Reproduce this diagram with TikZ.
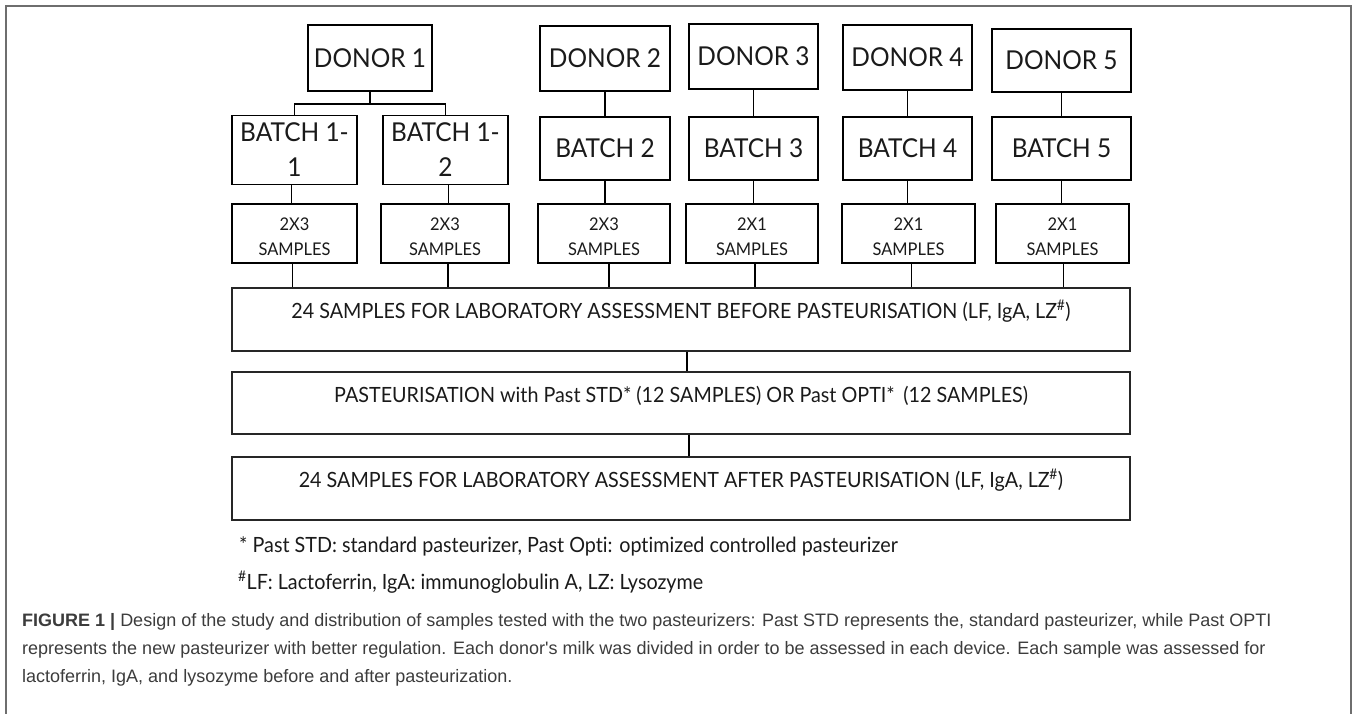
\documentclass[tikz,border=0pt]{standalone}
\usepackage{fontspec}
\setmainfont{Lato}[FakeStretch=0.94,Ligatures=NoCommon]
\newfontfamily\capfont{Liberation Sans}
\definecolor{ink}{HTML}{1A1A1A}
\definecolor{capgray}{HTML}{3C3C3C}
\definecolor{framegray}{HTML}{6E6E6E}
\newcommand{\lowtext}[2]{\raisebox{-#1}[\height][\depth]{\begin{tabular}{@{}c@{}}#2\end{tabular}}}
\begin{document}
\begin{tikzpicture}[x=1pt,y=-1pt,
  box/.style={draw=black, line width=1.8pt, inner sep=0pt, text=ink, align=center,
    font=\fontsize{26}{34.5}\selectfont},
  sampbox/.style={draw=black, line width=1.5pt, inner sep=0pt, text=ink,
    font=\fontsize{17.5}{24.5}\selectfont, minimum height=59pt},
  widebox/.style={draw=black!85, line width=1.4pt, inner sep=0pt, text=ink,
    minimum width=898pt, text height=16pt, text depth=18pt,
    font=\fontsize{21}{26}\selectfont},
  link/.style={draw=black, line width=1.6pt},
  note/.style={anchor=west, inner sep=0pt, text=ink, font=\fontsize{21}{26}\selectfont},
  frame/.style={draw=framegray, line width=1.5pt}
  ]
\useasboundingbox (0,0) rectangle (1357,714);
\draw[frame] (6,714) -- (6,6) -- (1351,6) -- (1351,714);

% donors
\node[box, minimum width=124pt, minimum height=66pt] (d1) at (370,58) {DONOR 1};
\node[box, minimum width=130pt, minimum height=65pt] (d2) at (605,58.5) {DONOR 2};
\node[box, minimum width=129pt, minimum height=65pt] (d3) at (753.5,56.5) {DONOR 3};
\node[box, minimum width=129pt, minimum height=65pt] (d4) at (907.5,57.5) {DONOR 4};
\node[box, minimum width=139pt, minimum height=63pt] (d5) at (1061.5,60.5) {DONOR 5};

% batches
\node[box, minimum width=125pt, minimum height=66pt] (b11) at (294.5,150) {\lowtext{2pt}{BATCH 1-\\1}};
\node[box, minimum width=125pt, minimum height=66pt] (b12) at (445.5,150) {\lowtext{2pt}{BATCH 1-\\2}};
\node[box, minimum width=130pt, minimum height=63pt] (b2) at (605,148.5) {BATCH 2};
\node[box, minimum width=129pt, minimum height=63pt] (b3) at (753.5,148.5) {BATCH 3};
\node[box, minimum width=129pt, minimum height=63pt] (b4) at (907.5,148.5) {BATCH 4};
\node[box, minimum width=139pt, minimum height=63pt] (b5) at (1061.5,148.5) {BATCH 5};

% samples
\node[sampbox, minimum width=125pt] (s1) at (294.5,233.5) {\lowtext{4.5pt}{2X3\\SAMPLES}};
\node[sampbox, minimum width=128pt] (s2) at (445,233.5) {\lowtext{4.5pt}{2X3\\SAMPLES}};
\node[sampbox, minimum width=132pt] (s3) at (604,233.5) {\lowtext{4.5pt}{2X3\\SAMPLES}};
\node[sampbox, minimum width=132pt] (s4) at (752,233.5) {\lowtext{4.5pt}{2X1\\SAMPLES}};
\node[sampbox, minimum width=133pt] (s5) at (908.5,233.5) {\lowtext{4.5pt}{2X1\\SAMPLES}};
\node[sampbox, minimum width=133pt] (s6) at (1062.5,233.5) {\lowtext{4.5pt}{2X1\\SAMPLES}};

% wide boxes
\node[widebox, minimum height=63pt] (w1) at (681,319.5)
  {24 SAMPLES FOR LABORATORY ASSESSMENT BEFORE PASTEURISATION (LF, IgA, LZ\textsuperscript{\#})};
\node[widebox, minimum height=62pt] (w2) at (681,403)
  {PASTEURISATION with Past STD* (12 SAMPLES) OR Past OPTI*\, (12 SAMPLES)};
\node[widebox, minimum height=63pt] (w3) at (681,488.5)
  {24 SAMPLES FOR LABORATORY ASSESSMENT AFTER PASTEURISATION (LF, IgA, LZ\textsuperscript{\#})};

% connectors
\coordinate (j1) at (370,104);
\draw[link] (d1.south) -- (j1);
\draw[link] (b11.north) |- (j1) -| (b12.north);
\draw[link] (d2) -- (b2);
\draw[link] (d3) -- (b3);
\draw[link] (d4) -- (b4);
\draw[link] (d5) -- (b5);
\draw[link] ([xshift=-3pt]b11.south) -- ([xshift=-3pt]b11.south |- s1.north);
\draw[link] ([xshift=3pt]b12.south) -- ([xshift=3pt]b12.south |- s2.north);
\draw[link] (b2.south) -- (b2.south |- s3.north);
\draw[link] (b3.south) -- (b3.south |- s4.north);
\draw[link] (b4.south) -- (b4.south |- s5.north);
\draw[link] (b5.south) -- (b5.south |- s6.north);
\foreach \s/\dx in {s1/-2,s2/3,s3/5,s4/3,s5/3,s6/1}
  \draw[link] ([xshift=\dx pt]\s.south) -- ([xshift=\dx pt]\s.south |- w1.north);
\draw[link] ([xshift=6pt]w1.south) -- ([xshift=6pt]w1.south |- w2.north);
\draw[link] ([xshift=8pt]w2.south) -- ([xshift=8pt]w2.south |- w3.north);

% footnotes
\node[note] (fn1) at (239,546) {* Past STD: standard pasteurizer, Past Opti: optimized controlled pasteurizer};
\node[note] (fn2) at (238,582) {\textsuperscript{\#}LF: Lactoferrin, IgA: immunoglobulin A, LZ: Lysozyme};

% caption
\node[anchor=north west, align=left, inner sep=0pt, text=capgray,
  font=\capfont\fontsize{18}{28}\selectfont] (cap) at (22,613)
  {\textbf{FIGURE 1 |} Design of the study and distribution of samples tested with the two pasteurizers: Past STD represents the, standard pasteurizer, while Past OPTI\\
   represents the new pasteurizer with better regulation. Each donor's milk was divided in order to be assessed in each device. Each sample was assessed for\\
   lactoferrin, IgA, and lysozyme before and after pasteurization.};
\end{tikzpicture}
\end{document}
